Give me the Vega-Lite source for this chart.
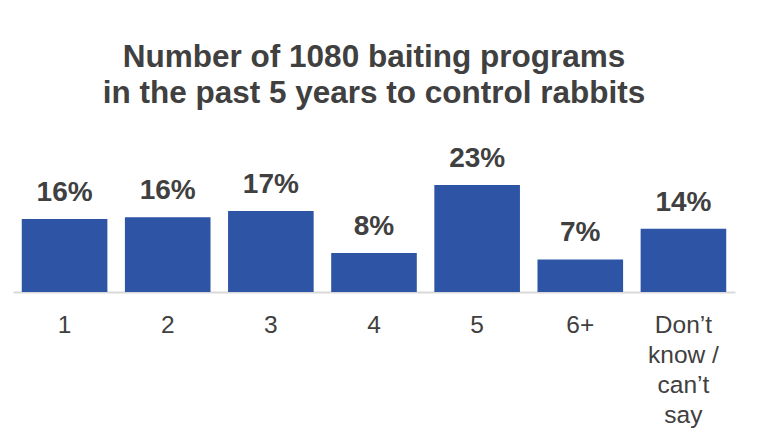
{
  "$schema": "https://vega.github.io/schema/vega-lite/v6.json",
  "autosize": {"type": "none"},
  "width": 722,
  "height": 170,
  "padding": {"left": 13, "top": 122, "right": 33, "bottom": 155},
  "background": "white",
  "config": {"view": {"stroke": null}, "font": "Liberation Sans"},
  "title": {
    "text": ["Number of 1080 baiting programs", "in the past 5 years to control rabbits"],
    "frame": "group",
    "anchor": "middle",
    "baseline": "bottom",
    "offset": -19,
    "fontSize": 31.5,
    "lineHeight": 36,
    "font": "Liberation Sans",
    "fontWeight": "bold",
    "color": "#404040"
  },
  "data": {
    "values": [
      {"programs": "1", "share": 0.157},
      {"programs": "2", "share": 0.161},
      {"programs": "3", "share": 0.174},
      {"programs": "4", "share": 0.084},
      {"programs": "5", "share": 0.230},
      {"programs": "6+", "share": 0.070},
      {"programs": "Don’t know / can’t say", "share": 0.136}
    ]
  },
  "encoding": {
    "x": {
      "field": "programs",
      "type": "nominal",
      "sort": null,
      "scale": {"paddingInner": 0.17, "paddingOuter": 0.085},
      "axis": {
        "title": null,
        "labelAngle": 0,
        "labelFontSize": 24.5,
        "labelFont": "Liberation Sans",
        "labelColor": "#404040",
        "labelPadding": 21,
        "labelLineHeight": 30,
        "labelExpr": "datum.value == 'Don’t know / can’t say' ? ['Don’t', 'know /', 'can’t', 'say'] : datum.label",
        "ticks": false,
        "grid": false,
        "domainColor": "#d9d9d9",
        "domainWidth": 2
      }
    },
    "y": {
      "field": "share",
      "type": "quantitative",
      "scale": {"domain": [0, 0.3656]},
      "axis": null
    }
  },
  "layer": [
    {"mark": {"type": "bar", "color": "#2E54A5"}},
    {
      "mark": {
        "type": "text",
        "baseline": "alphabetic",
        "dy": -18,
        "fontSize": 28,
        "fontWeight": "bold",
        "font": "Liberation Sans",
        "color": "#404040"
      },
      "encoding": {"text": {"field": "share", "type": "quantitative", "format": ".0%"}}
    }
  ]
}
